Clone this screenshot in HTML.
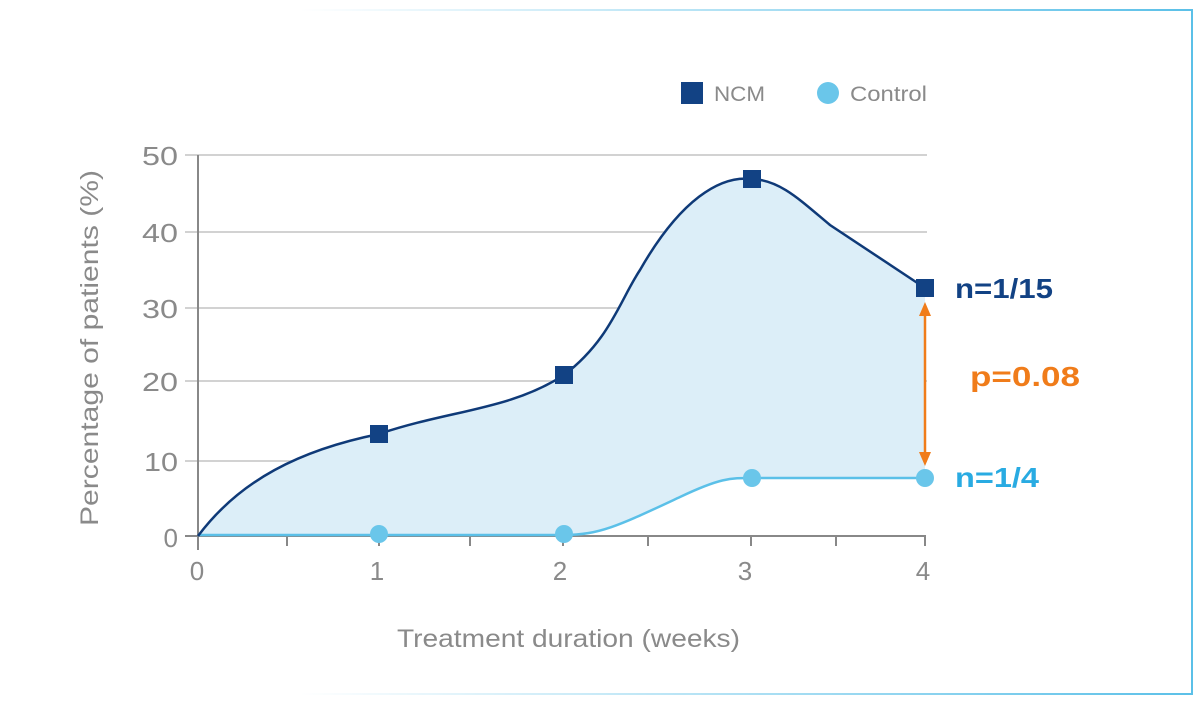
<!DOCTYPE html>
<html><head><meta charset="utf-8"><style>
body{margin:0;background:#fff;}
svg{display:block;font-family:"Liberation Sans",sans-serif;}
</style></head><body>
<svg width="1200" height="704" viewBox="0 0 1200 704">
<defs>
<linearGradient id="gt" gradientUnits="userSpaceOnUse" x1="300" x2="1193" y1="0" y2="0">
<stop offset="0" stop-color="#5bc0e8" stop-opacity="0"/><stop offset="0.6" stop-color="#5bc0e8" stop-opacity="0.6"/><stop offset="1" stop-color="#5bc0e8"/></linearGradient>
</defs>
<line x1="300" y1="10" x2="1193" y2="10" stroke="url(#gt)" stroke-width="2"/>
<line x1="300" y1="694" x2="1193" y2="694" stroke="url(#gt)" stroke-width="2"/>
<line x1="1192" y1="10" x2="1192" y2="694" stroke="#5bc0e8" stroke-width="2"/>
<g stroke="#c4c4c4" stroke-width="1.5">
<line x1="185" y1="155" x2="927" y2="155"/>
<line x1="185" y1="232" x2="927" y2="232"/>
<line x1="185" y1="308" x2="927" y2="308"/>
<line x1="185" y1="381" x2="927" y2="381"/>
<line x1="185" y1="461" x2="927" y2="461"/>
</g>
<path d="M198,536 C240,480 300,450 379,434 C450,410 510,410 564,375 C610,340 620,300 640,270 C680,200 720,175 752,179 C780,180 800,200 830,225 L925,288 L925,478 L752,478 C730,478 720,478 680,497 C620,525 600,535 564,535 L198,535 Z" fill="#dceef8"/>
<line x1="198" y1="155" x2="198" y2="550" stroke="#888" stroke-width="2"/>
<line x1="185" y1="536" x2="926" y2="536" stroke="#888" stroke-width="2"/>
<g stroke="#888" stroke-width="2">
<line x1="287" y1="536" x2="287" y2="546"/><line x1="379" y1="536" x2="379" y2="546"/>
<line x1="470" y1="536" x2="470" y2="546"/><line x1="563" y1="536" x2="563" y2="546"/>
<line x1="648" y1="536" x2="648" y2="546"/><line x1="751" y1="536" x2="751" y2="546"/>
<line x1="836" y1="536" x2="836" y2="546"/><line x1="925" y1="536" x2="925" y2="546"/>
</g>
<path d="M198,535 L564,535 C600,535 620,525 680,497 C720,478 730,478 752,478 L925,478" fill="none" stroke="#5bc0e8" stroke-width="2.5"/>
<path d="M198,536 C240,480 300,450 379,434 C450,410 510,410 564,375 C610,340 620,300 640,270 C680,200 720,175 752,179 C780,180 800,200 830,225 L925,288" fill="none" stroke="#0f3a78" stroke-width="2.5"/>
<g fill="#6ac6ea"><circle cx="379" cy="534" r="9"/><circle cx="564" cy="534" r="9"/><circle cx="752" cy="478" r="9"/><circle cx="925" cy="478" r="9"/></g>
<g fill="#124284"><rect x="370" y="425" width="18" height="18"/><rect x="555" y="366" width="18" height="18"/><rect x="743" y="170" width="18" height="18"/><rect x="916" y="279" width="18" height="18"/></g>
<line x1="925" y1="312" x2="925" y2="456" stroke="#f07c1a" stroke-width="2.5"/>
<path d="M919,316 L925,302 L931,316 Z M919,452 L925,466 L931,452 Z" fill="#f07c1a"/>
<g fill="#8a8a8a" font-size="26" text-anchor="end" lengthAdjust="spacingAndGlyphs">
<text x="178" y="165" textLength="36" lengthAdjust="spacingAndGlyphs">50</text><text x="178" y="242" textLength="36" lengthAdjust="spacingAndGlyphs">40</text><text x="178" y="318" textLength="36" lengthAdjust="spacingAndGlyphs">30</text>
<text x="178" y="391" textLength="36" lengthAdjust="spacingAndGlyphs">20</text><text x="178" y="471" textLength="34" lengthAdjust="spacingAndGlyphs">10</text><text x="178" y="547">0</text>
</g>
<g fill="#8a8a8a" font-size="26" text-anchor="middle">
<text x="197" y="580">0</text><text x="377" y="580">1</text><text x="560" y="580">2</text><text x="745" y="580">3</text><text x="923" y="580">4</text>
</g>
<text x="397" y="647" fill="#8a8a8a" font-size="25" textLength="343" lengthAdjust="spacingAndGlyphs">Treatment duration (weeks)</text>
<text transform="translate(98,526) rotate(-90)" fill="#8a8a8a" font-size="25" textLength="356" lengthAdjust="spacingAndGlyphs">Percentage of patients (%)</text>
<rect x="681" y="82" width="22" height="22" fill="#124284"/>
<text x="714" y="101" fill="#8a8a8a" font-size="21" textLength="51" lengthAdjust="spacingAndGlyphs">NCM</text>
<circle cx="828" cy="93" r="11" fill="#6ac6ea"/>
<text x="850" y="101" fill="#8a8a8a" font-size="21" textLength="77" lengthAdjust="spacingAndGlyphs">Control</text>
<text x="955" y="298" fill="#124284" font-size="28" font-weight="bold" textLength="98" lengthAdjust="spacingAndGlyphs">n=1/15</text>
<text x="970" y="386" fill="#f07c1a" font-size="28" font-weight="bold" textLength="110" lengthAdjust="spacingAndGlyphs">p=0.08</text>
<text x="955" y="487" fill="#29abe2" font-size="28" font-weight="bold" textLength="84" lengthAdjust="spacingAndGlyphs">n=1/4</text>
</svg>
</body></html>
